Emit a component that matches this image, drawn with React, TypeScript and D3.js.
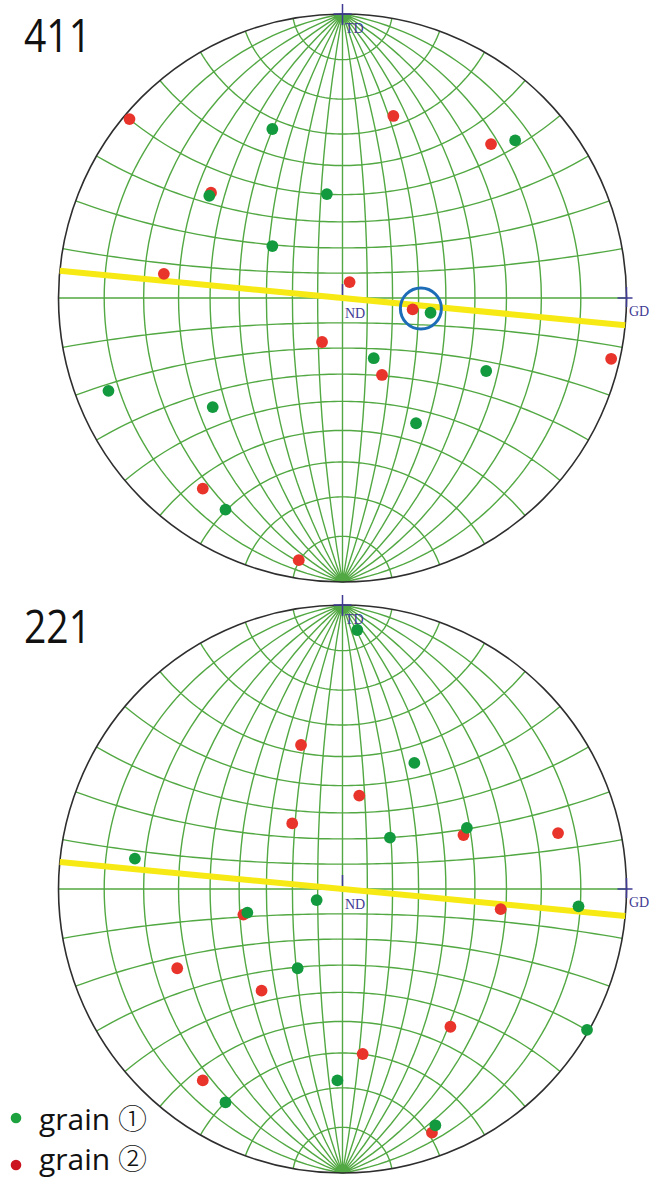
import React, { useEffect, useRef } from "react";
import * as d3 from "d3";

const width = 649;
const height = 1179;

// pole figures, top to bottom
const planes = ["411", "221"];
// yellow trace through ND, degrees from the GD axis
const traceAngles = [-5.5, -5.45];

// projected poles on the unit net (x toward GD, y toward TD)
const grain1_411 = [
  [-0.247, 0.595], [0.608, 0.555], [-0.469, 0.36], [-0.055, 0.366],
  [-0.247, 0.183], [0.31, -0.052], [0.11, -0.212], [0.506, -0.257],
  [-0.824, -0.327], [-0.457, -0.384], [0.259, -0.441], [-0.412, -0.745],
];
const grain2_411 = [
  [-0.75, 0.63], [0.179, 0.641], [0.523, 0.542], [-0.463, 0.371],
  [-0.629, 0.085], [0.025, 0.056], [0.247, -0.04], [-0.072, -0.155],
  [0.139, -0.271], [0.946, -0.214], [-0.492, -0.671], [-0.154, -0.923],
];
const grain1_221 = [
  [0.052, 0.912], [0.253, 0.444], [0.167, 0.181], [0.438, 0.215],
  [-0.731, 0.107], [-0.091, -0.039], [-0.335, -0.083], [0.831, -0.061],
  [-0.158, -0.279], [0.861, -0.496], [-0.018, -0.674], [-0.412, -0.751],
  [0.327, -0.832],
];
const grain2_221 = [
  [-0.146, 0.507], [0.059, 0.329], [-0.177, 0.231], [0.426, 0.19],
  [0.759, 0.197], [-0.349, -0.09], [0.557, -0.071], [-0.582, -0.279],
  [-0.285, -0.358], [0.38, -0.485], [0.071, -0.581], [-0.492, -0.674],
  [0.315, -0.858],
];

// circled pair in the 411 net
const highlight411 = [0.276, -0.037];

// Wulff net, 10 degree grid
const longitudes = d3.range(-80, 90, 10);
const latitudes = d3.range(-80, 90, 10);

const legendNames = ["grain", "grain"];
const legendMarks = ["①", "②"];

const App = () => {
  const ref = useRef(null);

  useEffect(() => {
    const svg = d3.select(ref.current);
    svg.selectAll("*").remove();

    const R = 284;
    const cx = 342.5;
    const centers = [298, 889];
    const green = "#139a3e";
    const red = "#e8342b";
    const navy = "#3f3b94";
    const points = [
      [grain1_411, grain2_411],
      [grain1_221, grain2_221],
    ];

    planes.forEach((label, i) => {
      const cy = centers[i];
      const g = svg.append("g");

      const x = d3.scaleLinear().domain([-1, 1]).range([cx - R, cx + R]);
      const y = d3.scaleLinear().domain([-1, 1]).range([cy + R, cy - R]);

      const projection = d3
        .geoStereographic()
        .scale(R)
        .translate([cx, cy])
        .precision(0.1);
      const path = d3.geoPath(projection);

      const meridians = longitudes.map((lon) =>
        [-90, -60, -30, 0, 30, 60, 90].map((lat) => [lon, lat])
      );
      const parallels = latitudes.map((lat) =>
        d3.range(-90, 90.5, 2).map((lon) => [lon, lat])
      );

      g.append("path")
        .datum({ type: "MultiLineString", coordinates: [...meridians, ...parallels] })
        .attr("d", path)
        .attr("fill", "none")
        .attr("stroke", "#52a842")
        .attr("stroke-width", 1.4);

      g.append("circle")
        .attr("cx", x(0))
        .attr("cy", y(0))
        .attr("r", x(1) - x(0))
        .attr("fill", "none")
        .attr("stroke", "#2e2e2e")
        .attr("stroke-width", 1.6);

      // axis marks
      const [px, py] = projection([0, 90]);
      const [gx, gy] = projection([90, 0]);
      g.append("path")
        .attr(
          "d",
          `M${px},${py - 10}V${py + 11}M${px - 9},${py}H${px + 9}` +
            `M${x(0)},${y(0)}v-14` +
            `M${gx - 9},${gy}H${gx + 6}M${gx},${gy - 11}V${gy + 9}`
        )
        .attr("stroke", navy)
        .attr("stroke-width", 1.5)
        .attr("fill", "none");

      const axisText = [
        ["TD", px + 2.5, py + 19],
        ["ND", x(0) + 2.5, y(0) + 20],
        ["GD", gx + 2.5, gy + 18],
      ];
      g.selectAll("text.axis")
        .data(axisText)
        .join("text")
        .attr("class", "axis")
        .attr("x", (d) => d[1])
        .attr("y", (d) => d[2])
        .attr("font-family", "'Liberation Serif', 'DejaVu Serif', serif")
        .attr("font-size", 14)
        .attr("fill", navy)
        .text((d) => d[0]);

      // plane trace
      const a = (traceAngles[i] * Math.PI) / 180;
      g.append("line")
        .attr("x1", x(-Math.cos(a)))
        .attr("y1", y(-Math.sin(a)))
        .attr("x2", x(Math.cos(a)))
        .attr("y2", y(Math.sin(a)))
        .attr("stroke", "#f7ea14")
        .attr("stroke-width", 6);

      const [g1, g2] = points[i];
      g.selectAll("circle.g2")
        .data(g2)
        .join("circle")
        .attr("class", "g2")
        .attr("cx", (d) => x(d[0]))
        .attr("cy", (d) => y(d[1]))
        .attr("r", 5.9)
        .attr("fill", red);
      g.selectAll("circle.g1")
        .data(g1)
        .join("circle")
        .attr("class", "g1")
        .attr("cx", (d) => x(d[0]))
        .attr("cy", (d) => y(d[1]))
        .attr("r", 5.9)
        .attr("fill", green);

      if (i === 0) {
        g.append("circle")
          .attr("cx", x(highlight411[0]))
          .attr("cy", y(highlight411[1]))
          .attr("r", 20.5)
          .attr("fill", "none")
          .attr("stroke", "#1c6cb8")
          .attr("stroke-width", 3);
      }

      g.append("text")
        .attr("x", 24)
        .attr("y", cy - R + 38)
        .attr("font-family", "'Open Sans', sans-serif")
        .attr("font-size", 45)
        .attr("textLength", 67)
        .attr("lengthAdjust", "spacingAndGlyphs")
        .attr("fill", "#111")
        .text(label);
    });

    // legend
    const legend = svg.append("g");
    const legendColors = ["#1ea23f", "#cc1420"];
    const dotY = [1118, 1165];
    const textY = [1130, 1170];
    legendNames.forEach((t, k) => {
      legend
        .append("circle")
        .attr("cx", 16)
        .attr("cy", dotY[k])
        .attr("r", 5.3)
        .attr("fill", legendColors[k]);
      const txt = legend
        .append("text")
        .attr("x", 39)
        .attr("y", textY[k])
        .attr("font-family", "'Open Sans', sans-serif")
        .attr("font-size", 30)
        .attr("fill", "#111");
      txt.append("tspan").text(t + " ");
      txt
        .append("tspan")
        .attr("font-family", "'Noto Sans CJK JP', 'Noto Sans CJK SC', sans-serif")
        .attr("font-weight", 300)
        .attr("font-size", 29)
        .text(legendMarks[k]);
    });
  }, []);

  return (
    <svg
      ref={ref}
      width={width}
      height={height}
      style={{ position: "absolute", left: 0, top: 0, background: "#fff" }}
    />
  );
};

export default App;
